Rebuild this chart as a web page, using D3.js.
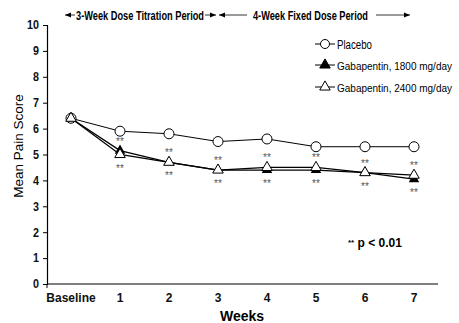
<!DOCTYPE html>
<html>
<head>
<meta charset="utf-8">
<script src="https://cdn.jsdelivr.net/npm/d3@7"></script>
<style>
  body { margin: 0; background: #fff; }
  svg { display: block; font-family: Arial, "Liberation Sans", sans-serif; }
</style>
</head>
<body>
<div id="chart"></div>
<script>
const weeks = ['Baseline', '1', '2', '3', '4', '5', '6', '7'];
const placebo = [6.4, 5.9, 5.8, 5.5, 5.6, 5.3, 5.3, 5.3];
const gaba1800 = [6.4, 5.15, 4.7, 4.4, 4.4, 4.4, 4.3, 4.05];
const gaba2400 = [6.4, 5.0, 4.7, 4.4, 4.5, 4.5, 4.3, 4.2];
const yTicks = [0, 1, 2, 3, 4, 5, 6, 7, 8, 9, 10];
const seriesNames = ['Placebo', 'Gabapentin, 1800 mg/day', 'Gabapentin, 2400 mg/day'];

const W = 459, H = 323;
const svg = d3.select('#chart').append('svg')
    .attr('width', W)
    .attr('height', H);

const x = d3.scalePoint().domain(weeks).range([47, 438]).padding(0.49);
const y = d3.scaleLinear().domain([0, 10]).range([284, 25]);

// condensed look: squeeze text to a fixed width
const squeeze = (sel, w) => sel.attr('textLength', w).attr('lengthAdjust', 'spacingAndGlyphs');

// y axis
const yAxis = svg.append('g')
    .attr('transform', 'translate(47,0)')
    .call(d3.axisLeft(y).tickValues(yTicks).tickSize(4).tickPadding(4));
yAxis.select('.domain').attr('stroke', '#000').attr('stroke-width', 1.2);
yAxis.selectAll('.tick line').attr('stroke', '#000');
yAxis.selectAll('.tick text')
    .style('font-size', '12px')
    .style('font-weight', 'bold')
    .style('font-family', 'Arial, "Liberation Sans", sans-serif')
    .attr('fill', '#111')
    .each(function (d) { squeeze(d3.select(this), d === 10 ? 12 : 6); });

// x axis: baseline only, tick only at the origin
svg.append('line')
    .attr('x1', 47).attr('x2', 438)
    .attr('y1', y(0)).attr('y2', y(0))
    .attr('stroke', '#000').attr('stroke-width', 1.2);
svg.append('line')
    .attr('x1', 47).attr('x2', 47)
    .attr('y1', y(0)).attr('y2', y(0) + 4)
    .attr('stroke', '#000');
svg.selectAll('.xlab')
    .data(weeks)
    .enter().append('text')
    .attr('class', 'xlab')
    .attr('x', d => x(d))
    .attr('y', 302)
    .attr('text-anchor', 'middle')
    .style('font-size', '12px')
    .style('font-weight', 'bold')
    .attr('fill', '#111')
    .text(d => d);

svg.append('text')
    .attr('x', 242).attr('y', 321)
    .attr('text-anchor', 'middle')
    .style('font-size', '14px')
    .style('font-weight', 'bold')
    .text('Weeks');

svg.append('text')
    .attr('transform', 'translate(23,146) rotate(-90)')
    .attr('text-anchor', 'middle')
    .style('font-size', '13.5px')
    .text('Mean Pain Score');

// lines
const line = d3.line()
    .x((d, i) => x(weeks[i]))
    .y(d => y(d));

[[placebo, 1], [gaba2400, 1.3], [gaba1800, 1.3]].forEach(([vals, sw]) => {
    svg.append('path')
        .datum(vals)
        .attr('d', line)
        .attr('fill', 'none')
        .attr('stroke', '#000')
        .attr('stroke-width', sw);
});

const tri = d3.symbol().type(d3.symbolTriangle).size(48);

// markers
svg.selectAll('.pla')
    .data(placebo)
    .enter().append('circle')
    .attr('cx', (d, i) => x(weeks[i]))
    .attr('cy', d => y(d))
    .attr('r', 5)
    .attr('fill', '#fff')
    .attr('stroke', '#000');

svg.selectAll('.g18')
    .data(gaba1800)
    .enter().append('path')
    .attr('d', tri)
    .attr('transform', (d, i) => `translate(${x(weeks[i])},${y(d)})`)
    .attr('fill', '#000');

svg.selectAll('.g24')
    .data(gaba2400)
    .enter().append('path')
    .attr('d', tri)
    .attr('transform', (d, i) => `translate(${x(weeks[i])},${y(d)})`)
    .attr('fill', '#fff')
    .attr('stroke', '#000');

// significance marks above and below the gabapentin points
weeks.slice(1).forEach((w, k) => {
    const i = k + 1;
    const hi = Math.max(gaba1800[i], gaba2400[i]);
    const lo = Math.min(gaba1800[i], gaba2400[i]);
    [y(hi) - 6, y(lo) + 17].forEach(yy => {
        svg.append('text')
            .attr('x', x(w)).attr('y', yy)
            .attr('text-anchor', 'middle')
            .style('font-size', '10px')
            .attr('fill', '#555')
            .text('**');
    });
});

// legend
const legend = svg.append('g').attr('transform', 'translate(315,0)');
const legY = [44, 65, 87];
const legW = [35, 115, 115];
seriesNames.forEach((name, i) => {
    const g = legend.append('g').attr('transform', `translate(0,${legY[i]})`);
    g.append('line').attr('x1', 0).attr('x2', 20).attr('stroke', '#000');
    if (i === 0) {
        g.append('circle').attr('cx', 10).attr('r', 4.5).attr('fill', '#fff').attr('stroke', '#000');
    } else {
        g.append('path').attr('d', tri)
            .attr('transform', 'translate(10,0)')
            .attr('fill', i === 1 ? '#000' : '#fff')
            .attr('stroke', '#000');
    }
    g.append('text')
        .attr('x', 22).attr('y', 4.5)
        .style('font-size', i === 0 ? '12.5px' : '10.5px')
        .text(name)
        .call(squeeze, legW[i])
        .each(function () { if (i > 0) d3.select(this).style('font-size', '10.5px').attr('transform', 'translate(0,0)'); });
});

// p-value note
const note = svg.append('text')
    .attr('x', 348).attr('y', 247)
    .style('font-weight', 'bold');
note.append('tspan').style('font-size', '8px').attr('dy', -2).text('**');
note.append('tspan').style('font-size', '12px').attr('dy', 2).text(' p < 0.01');

// dosing period annotation
const arrow = (x1, x2, yy) => {
    svg.append('line').attr('x1', x1).attr('x2', x2).attr('y1', yy).attr('y2', yy)
        .attr('stroke', '#000').attr('stroke-width', 0.8);
};
const head = (xx, yy, dir) => {
    svg.append('path')
        .attr('d', `M${xx},${yy} l${-dir * 6},-2.5 l0,5 z`)
        .attr('fill', '#000');
};
const ann = 15;
svg.append('text')
    .attr('x', 76).attr('y', ann + 4.5)
    .style('font-size', '12.5px').style('font-weight', 'bold')
    .text('3-Week Dose Titration Period')
    .call(squeeze, 128);
arrow(65, 75, ann); head(65, ann, -1);
arrow(205, 216, ann); head(216, ann, 1);
svg.append('text')
    .attr('x', 253).attr('y', ann + 4.5)
    .style('font-size', '12.5px').style('font-weight', 'bold')
    .text('4-Week Fixed Dose Period')
    .call(squeeze, 115);
arrow(219, 247, ann); head(219, ann, -1);
arrow(376, 410, ann); head(410, ann, 1);
</script>
</body>
</html>
